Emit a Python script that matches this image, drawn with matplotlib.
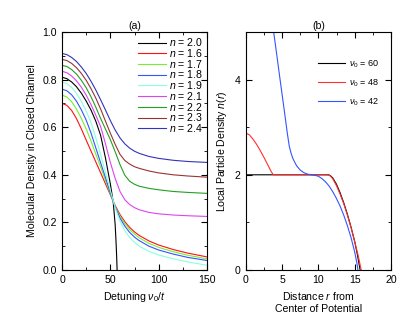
import numpy as np
import matplotlib.pyplot as plt
from matplotlib.ticker import MultipleLocator

plt.rcParams['font.family'] = ['Liberation Sans', 'DejaVu Sans']
plt.rcParams['font.size'] = 7.6
plt.rcParams['mathtext.fontset'] = 'custom'
plt.rcParams['mathtext.it'] = 'Liberation Sans:italic'
plt.rcParams['mathtext.rm'] = 'Liberation Sans'

# panel (a): molecular density in closed channel vs detuning
v_a = [0, 5, 10, 15, 20, 25, 30, 35, 40, 45, 50, 55, 60, 65, 70, 75, 80, 90, 100, 115, 130, 150]
d_16 = [0.700, 0.692, 0.670, 0.636, 0.593, 0.546, 0.500, 0.454, 0.408, 0.362, 0.316, 0.271,
        0.233, 0.203, 0.179, 0.160, 0.145, 0.122, 0.105, 0.086, 0.071, 0.055]
d_17 = [0.735, 0.727, 0.707, 0.676, 0.637, 0.593, 0.542, 0.487, 0.432, 0.376, 0.320, 0.267,
        0.226, 0.195, 0.170, 0.151, 0.135, 0.112, 0.095, 0.077, 0.062, 0.047]
d_18 = [0.760, 0.753, 0.736, 0.709, 0.673, 0.630, 0.576, 0.513, 0.450, 0.388, 0.325, 0.265,
        0.218, 0.184, 0.158, 0.138, 0.123, 0.100, 0.084, 0.067, 0.053, 0.040]
d_19 = [0.790, 0.783, 0.767, 0.742, 0.709, 0.668, 0.620, 0.554, 0.484, 0.410, 0.335, 0.262,
        0.205, 0.165, 0.137, 0.116, 0.100, 0.078, 0.063, 0.047, 0.034, 0.020]
d_21 = [0.835, 0.829, 0.815, 0.795, 0.768, 0.735, 0.695, 0.650, 0.602, 0.530, 0.452, 0.385,
        0.330, 0.295, 0.275, 0.262, 0.253, 0.242, 0.236, 0.231, 0.228, 0.225]
d_22 = [0.860, 0.855, 0.842, 0.823, 0.797, 0.766, 0.728, 0.684, 0.636, 0.592, 0.548, 0.497,
        0.443, 0.398, 0.373, 0.360, 0.352, 0.343, 0.337, 0.330, 0.326, 0.322]
d_23 = [0.885, 0.880, 0.868, 0.850, 0.826, 0.797, 0.762, 0.722, 0.676, 0.625, 0.575, 0.528,
        0.486, 0.460, 0.445, 0.434, 0.427, 0.416, 0.408, 0.400, 0.395, 0.390]
d_24 = [0.910, 0.905, 0.893, 0.876, 0.853, 0.826, 0.793, 0.756, 0.715, 0.672, 0.628, 0.588,
        0.555, 0.530, 0.512, 0.499, 0.490, 0.477, 0.469, 0.461, 0.456, 0.452]
v_20 = [0, 5, 10, 15, 20, 25, 30, 35, 40, 45, 50, 53, 55, 56, 56.6, 57]
d_20 = [0.810, 0.804, 0.790, 0.770, 0.743, 0.710, 0.672, 0.625, 0.565, 0.470, 0.362, 0.285,
        0.19, 0.11, 0.05, 0.0]

# panel (b): local particle density vs distance
r_60 = [0, 11.3, 11.5, 11.75, 12, 12.5, 13, 13.5, 14, 14.5, 15, 15.4, 15.75]
n_60 = [2, 2, 1.995, 1.97, 1.93, 1.8, 1.62, 1.41, 1.17, 0.9, 0.6, 0.3, 0]
r_48 = [0, 0.5, 1, 1.5, 2, 2.5, 3, 3.5, 3.8, 11.2, 11.5, 11.75, 12, 12.5, 13, 13.5,
        14, 14.5, 15, 15.5, 15.9]
n_48 = [2.88, 2.84, 2.75, 2.64, 2.51, 2.37, 2.22, 2.07, 2.0, 2.0, 1.99, 1.96, 1.91, 1.77,
        1.59, 1.39, 1.15, 0.89, 0.6, 0.29, 0]
r_42 = [3.85, 4.25, 4.75, 5.25, 5.75, 6, 6.25, 6.5, 7, 7.5, 8, 8.5, 9, 9.5, 10, 10.5, 11,
        11.5, 12, 12.5, 13, 13.5, 14, 14.5, 15, 15.3, 15.45]
n_42 = [5.0, 4.55, 3.98, 3.42, 2.85, 2.6, 2.45, 2.34, 2.19, 2.1, 2.045, 2.015, 2.0, 1.99,
        1.97, 1.92, 1.85, 1.76, 1.64, 1.5, 1.34, 1.15, 0.93, 0.68, 0.38, 0.15, 0]

fig = plt.figure(figsize=(4.15, 3.18), dpi=100)
ax1 = fig.add_axes([62/415, 48/318, 145/415, 238/318])
ax2 = fig.add_axes([245.7/415, 48/318, 145.3/415, 238/318])

lw = 0.8
ax1.plot(v_20, d_20, color='black', lw=lw, label='$n$ = 2.0')
ax1.plot(v_a, d_16, color='#ff1010', lw=lw, label='$n$ = 1.6')
ax1.plot(v_a, d_17, color='#77ee33', lw=lw, label='$n$ = 1.7')
ax1.plot(v_a, d_18, color='#3355ff', lw=lw, label='$n$ = 1.8')
ax1.plot(v_a, d_19, color='#88ffdd', lw=lw, label='$n$ = 1.9')
ax1.plot(v_a, d_21, color='#dd44ee', lw=lw, label='$n$ = 2.1')
ax1.plot(v_a, d_22, color='#22a022', lw=lw, label='$n$ = 2.2')
ax1.plot(v_a, d_23, color='#993333', lw=lw, label='$n$ = 2.3')
ax1.plot(v_a, d_24, color='#3333bb', lw=lw, label='$n$ = 2.4')
ax1.set_xlim(0, 150)
ax1.set_ylim(0, 1.0)
ax1.xaxis.set_major_locator(MultipleLocator(50))
ax1.xaxis.set_minor_locator(MultipleLocator(25))
ax1.yaxis.set_major_locator(MultipleLocator(0.2))
ax1.yaxis.set_minor_locator(MultipleLocator(0.1))
ax1.set_title('(a)', fontsize=7.6, pad=2)
ax1.set_xlabel(r'Detuning $\nu_0/t$')
ax1.set_ylabel('Molecular Density in Closed Channel')
ax1.legend(loc='upper right', bbox_to_anchor=(1.0, 1.0), frameon=False, handlelength=2.6,
           handletextpad=0.3, labelspacing=-0.12, borderaxespad=0.1, borderpad=0.3)

ax2.plot(r_60, n_60, color='black', lw=lw, label=r'$\nu_0$ = 60')
ax2.plot(r_48, n_48, color='#ff3030', lw=lw, label=r'$\nu_0$ = 48')
ax2.plot(r_42, n_42, color='#3355ff', lw=lw, label=r'$\nu_0$ = 42')
ax2.set_xlim(0, 20)
ax2.set_ylim(0, 5)
ax2.xaxis.set_major_locator(MultipleLocator(5))
ax2.xaxis.set_minor_locator(MultipleLocator(2.5))
ax2.yaxis.set_major_locator(MultipleLocator(2))
ax2.yaxis.set_minor_locator(MultipleLocator(1))
ax2.set_title('(b)', fontsize=7.6, pad=2)
ax2.set_xlabel('Distance $r$ from\nCenter of Potential')
ax2.set_ylabel('Local Particle Density $n(r)$')
ax2.legend(loc='upper left', bbox_to_anchor=(0.475, 0.905), frameon=False, fontsize=6.5,
           handlelength=3.0, handletextpad=0.35, labelspacing=0.85, borderaxespad=0)

for ax in (ax1, ax2):
    ax.tick_params(which='both', direction='in', top=True, right=True, labelsize=7.6)
    ax.tick_params(which='major', length=4)
    ax.tick_params(which='minor', length=2)

plt.savefig('out.png', dpi=100)
